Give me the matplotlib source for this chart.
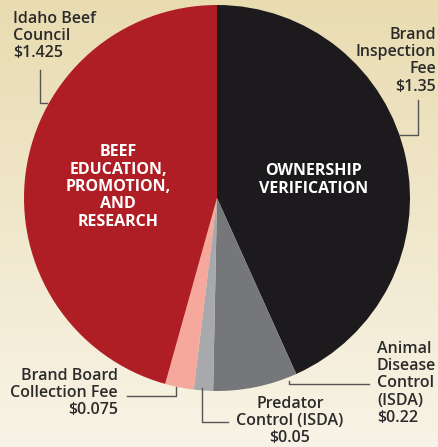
import numpy as np
import matplotlib
matplotlib.use("Agg")
import matplotlib.pyplot as plt
from matplotlib.colors import LinearSegmentedColormap


# order: clockwise from 12 o'clock
SEGMENTS = [
    "Brand Inspection Fee",
    "Animal Disease Control (ISDA)",
    "Predator Control (ISDA)",
    "Brand Board Collection Fee",
    "Idaho Beef Council",
]
AMOUNTS = [1.35, 0.22, 0.05, 0.075, 1.425]
COLORS = ["#1c1a1d", "#76777b", "#a8a9ad", "#f5a89b", "#b01e25"]

W, H = 438, 447
plt.rcParams["font.family"] = ["Open Sans", "DejaVu Sans"]

fig = plt.figure(figsize=(W / 100, H / 100), dpi=100)
ax = fig.add_axes([0, 0, 1, 1])

# background gradient, tan at top to cream at bottom
bg = LinearSegmentedColormap.from_list("bg", ["#f8f3e6", "#e9dcb1"])
grad = np.linspace(0, 1, 256).reshape(-1, 1)
ax.imshow(grad, extent=(0, W, 0, H), origin="lower", cmap=bg,
          aspect="auto", zorder=0)

cx, cy, r = 217, H - 198, 193
ax.pie(AMOUNTS, colors=COLORS, startangle=90, counterclock=False,
       center=(cx, cy), radius=r, frame=True,
       wedgeprops=dict(linewidth=0, zorder=2))
ax.set_xlim(0, W)
ax.set_ylim(0, H)
ax.set_aspect("equal")
ax.axis("off")

txt = dict(color="#2b2b2b", fontsize=11.5, fontweight="semibold",
           linespacing=1.1)
white = dict(color="white", fontsize=11.5, fontweight="bold",
             linespacing=1.12, ha="center", va="center")

ax.text(118, H - 187, "BEEF\nEDUCATION,\nPROMOTION,\nAND\nRESEARCH", **white)
ax.text(314, H - 180, "OWNERSHIP\nVERIFICATION", **white)

ax.text(13, H - 11, "Idaho Beef\nCouncil\n$" + str(AMOUNTS[4]),
        ha="left", va="top", **txt)
ax.text(436, H - 27, "Brand\nInspection\nFee\n$" + str(AMOUNTS[0]),
        ha="right", va="top", **txt)
ax.text(118, H - 368, "Brand Board\nCollection Fee\n$" + str(AMOUNTS[3]),
        ha="right", va="top", **txt)
ax.text(290, H - 396, "Predator\nControl (ISDA)\n$" + str(AMOUNTS[2]),
        ha="center", va="top", **txt)
ax.text(377, H - 341, "Animal\nDisease\nControl\n(ISDA)\n$" + str(AMOUNTS[1]),
        ha="left", va="top", **txt)

# leader lines
lc = dict(color="#555555", lw=1.0, zorder=3)
leaders = [
    ([40, 40, 47], [70, 103, 103]),
    ([418, 418, 400], [100, 135, 135]),
    ([127, 176, 176], [396, 396, 387]),
    ([202, 202, 228], [388, 422, 422]),
    ([289, 289, 369], [381, 384, 384]),
]
for xs, ys in leaders:
    ax.plot(xs, [H - y for y in ys], **lc)

fig.savefig("out.png", dpi=100)
